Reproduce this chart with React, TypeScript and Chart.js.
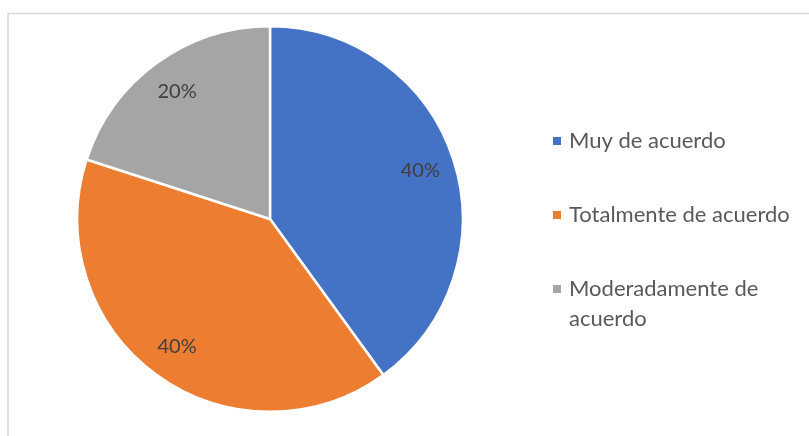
import React, { useEffect, useRef } from "react";
import { Chart, registerables } from "chart.js";

Chart.register(...registerables);

const categories = ["Muy de acuerdo", "Totalmente de acuerdo", "Moderadamente de acuerdo"];
const legendLines = [["Muy de acuerdo"], ["Totalmente de acuerdo"], ["Moderadamente de", "acuerdo"]];
const values = [40, 40, 20];
const colors = ["#4472C4", "#ED7D31", "#A5A5A5"];

const FONT = "Lato, 'Open Sans', sans-serif";

const framePlugin = {
  id: "frame",
  beforeDraw(chart: any) {
    const ctx = chart.ctx;
    ctx.save();
    ctx.fillStyle = "#ffffff";
    ctx.fillRect(0, 0, chart.width, chart.height);
    ctx.strokeStyle = "#d9d9d9";
    ctx.lineWidth = 1.5;
    ctx.beginPath();
    ctx.moveTo(8, chart.height + 2);
    ctx.lineTo(8, 13.5);
    ctx.lineTo(chart.width + 2, 13.5);
    ctx.stroke();
    ctx.restore();
  },
};

const labelPlugin = {
  id: "sliceLabels",
  afterDatasetsDraw(chart: any) {
    const ctx = chart.ctx;
    const meta = chart.getDatasetMeta(0);
    const data = chart.data.datasets[0].data as number[];
    const total = data.reduce((a, b) => a + b, 0);
    ctx.save();
    ctx.font = `20px ${FONT}`;
    ctx.fillStyle = "#404040";
    ctx.textAlign = "center";
    ctx.textBaseline = "middle";
    meta.data.forEach((arc: any, i: number) => {
      const { x, y, startAngle, endAngle, outerRadius } = arc.getProps(
        ["x", "y", "startAngle", "endAngle", "outerRadius"],
        true
      );
      const mid = (startAngle + endAngle) / 2;
      const r = outerRadius * 0.82;
      const pct = Math.round((data[i] / total) * 100) + "%";
      ctx.fillText(pct, x + Math.cos(mid) * r, y + Math.sin(mid) * r);
    });
    ctx.restore();
  },
};

const legendPlugin = {
  id: "customLegend",
  afterDraw(chart: any) {
    const ctx = chart.ctx;
    const ys = [141, 215, 289];
    ctx.save();
    ctx.font = `22px ${FONT}`;
    ctx.textBaseline = "middle";
    ctx.textAlign = "left";
    legendLines.forEach((lines, i) => {
      ctx.fillStyle = colors[i];
      ctx.fillRect(553, ys[i] - 4, 8, 8);
      ctx.fillStyle = "#595959";
      lines.forEach((t, j) => {
        ctx.fillText(t, 569, ys[i] + j * 30);
      });
    });
    ctx.restore();
  },
};

export default function App() {
  const ref = useRef<HTMLCanvasElement>(null);
  useEffect(() => {
    if (!ref.current) return;
    const chart = new Chart(ref.current, {
      type: "pie",
      data: {
        labels: categories,
        datasets: [
          {
            data: values,
            backgroundColor: colors,
            borderColor: "#ffffff",
            borderWidth: 2.5,
          },
        ],
      },
      options: {
        responsive: false,
        animation: false,
        layout: { padding: { top: 25, bottom: 23, left: 76, right: 345 } },
        plugins: {
          legend: { display: false },
          tooltip: { enabled: false },
        },
      },
      plugins: [framePlugin, labelPlugin, legendPlugin],
    });
    return () => chart.destroy();
  }, []);
  return (
    <div style={{ position: "absolute", left: 0, top: 0, width: 809, height: 436 }}>
      <canvas ref={ref} width={809} height={436} style={{ display: "block" }} />
    </div>
  );
}
